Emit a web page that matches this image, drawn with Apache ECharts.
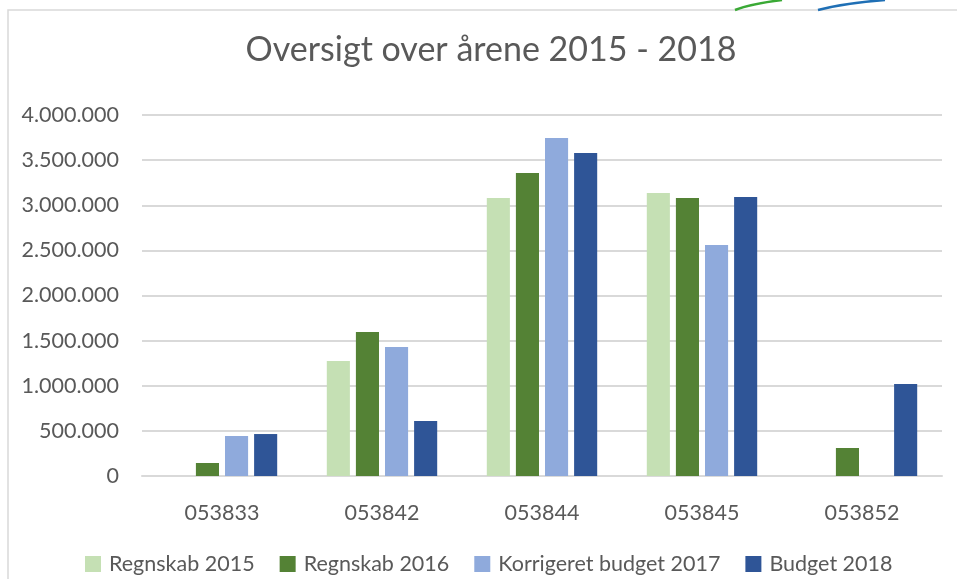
<!DOCTYPE html>
<html>
<head>
<meta charset="utf-8">
<title>Oversigt over årene 2015 - 2018</title>
<script src="https://cdn.jsdelivr.net/npm/echarts@6/dist/echarts.min.js"></script>
<style>
  html, body { margin: 0; padding: 0; background: #fff; }
  #chart { width: 957px; height: 579px; }
</style>
</head>
<body>
<div id="chart"></div>
<script>
// konti
var categories = ['053833', '053842', '053844', '053845', '053852'];
var seriesNames = ['Regnskab 2015', 'Regnskab 2016', 'Korrigeret budget 2017', 'Budget 2018'];

// (kr.)
var regnskab2015 = [0, 1274000, 3080000, 3136000, 0];
var regnskab2016 = [144000, 1596000, 3357000, 3080000, 310000];
var korrBudget2017 = [443000, 1429000, 3745000, 2560000, 0];
var budget2018 = [465000, 609000, 3579000, 3091000, 1019000];

var colors = ['#c5e0b4', '#548235', '#8faadc', '#2f5597'];
var values = [regnskab2015, regnskab2016, korrBudget2017, budget2018];

var font = 'Lato, "Open Sans", sans-serif';

function fmt(v) {
  // tusindtalsseparator med punktum
  return String(v).replace(/\B(?=(\d{3})+(?!\d))/g, '.');
}

var myChart = echarts.init(document.getElementById('chart'));

var series = [];
for (var i = 0; i < seriesNames.length; i++) {
  series.push({
    name: seriesNames[i],
    type: 'bar',
    barGap: '26%',
    barCategoryGap: '31%',
    itemStyle: { color: colors[i] },
    data: values[i]
  });
}

var option = {
  animation: false,
  backgroundColor: '#fff',
  textStyle: { fontFamily: font },
  title: {
    text: 'Oversigt over årene 2015 - 2018',
    left: 486,
    textAlign: 'center',
    top: 28,
    textStyle: {
      color: '#595959',
      fontSize: 34,
      fontWeight: 'normal',
      fontFamily: font
    }
  },
  legend: {
    data: seriesNames,
    left: 80,
    top: 548,
    itemWidth: 16,
    itemHeight: 16,
    itemGap: 25,
    icon: 'rect',
    textStyle: { color: '#595959', fontSize: 21.5, fontFamily: font, padding: [0, 0, 0, 3] }
  },
  grid: {
    left: 142,
    right: 15,
    top: 115,
    bottom: 103,
    outerBoundsMode: 'none'
  },
  xAxis: {
    type: 'category',
    data: categories,
    axisTick: { show: false },
    axisLine: { lineStyle: { color: '#d9d9d9', width: 2 } },
    axisLabel: { color: '#595959', fontSize: 21.5, margin: 26, fontFamily: font }
  },
  yAxis: {
    type: 'value',
    min: 0,
    max: 4000000,
    interval: 500000,
    axisLine: { show: false },
    axisTick: { show: false },
    axisLabel: {
      color: '#595959',
      fontSize: 21.5,
      margin: 23,
      padding: [14, 0, 0, 0],
      fontFamily: font,
      formatter: fmt
    },
    splitLine: { lineStyle: { color: '#d9d9d9', width: 2 } }
  },
  graphic: [
    {
      type: 'rect',
      shape: { x: 8, y: 10, width: 1000, height: 600 },
      style: { fill: 'none', stroke: '#d9d9d9', lineWidth: 1.5 },
      z: -1
    },
    {
      type: 'bezierCurve',
      shape: { x1: 735, y1: 10, cpx1: 750, cpy1: 4, x2: 782, y2: 0 },
      style: { stroke: '#3aa935', lineWidth: 2.5, fill: 'none' }
    },
    {
      type: 'bezierCurve',
      shape: { x1: 818, y1: 10, cpx1: 845, cpy1: 3, x2: 885, y2: 0 },
      style: { stroke: '#1f6fb5', lineWidth: 2.5, fill: 'none' }
    }
  ],
  series: series
};

myChart.setOption(option);
</script>
</body>
</html>
